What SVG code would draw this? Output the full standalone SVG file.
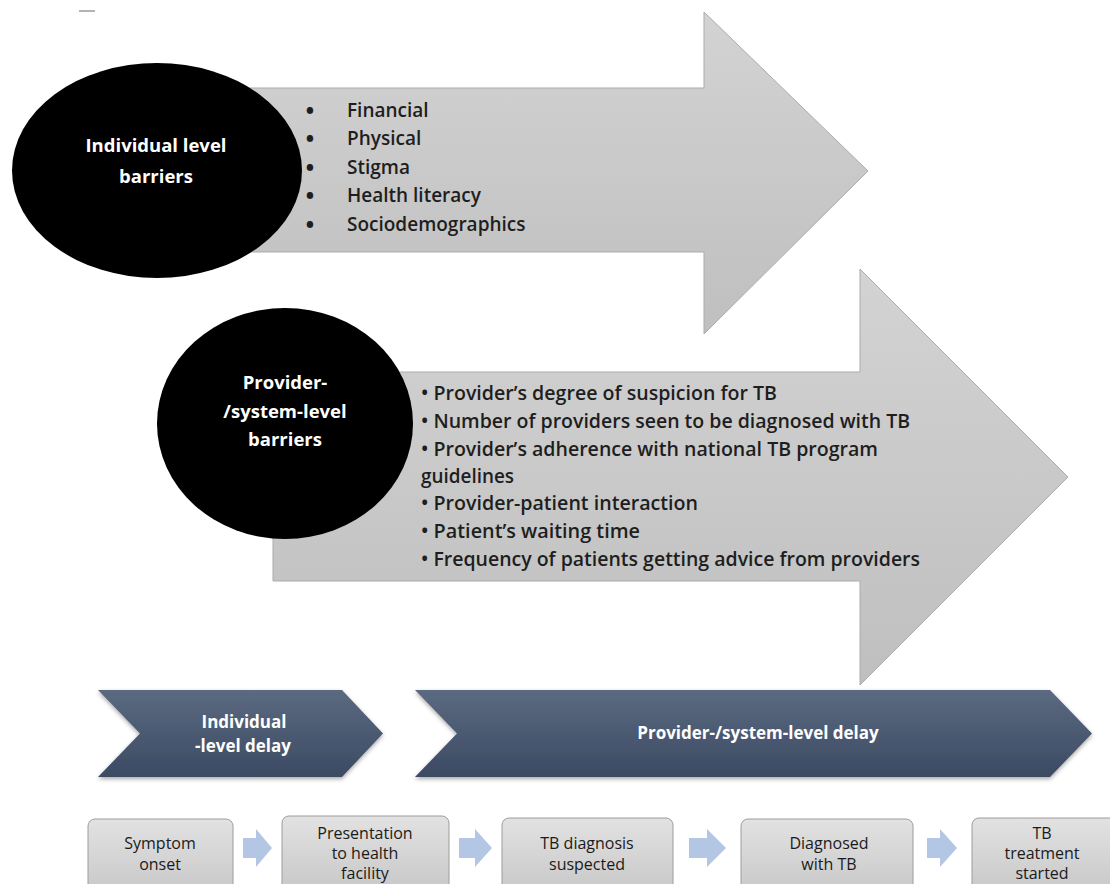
<svg xmlns="http://www.w3.org/2000/svg" width="1110" height="884" viewBox="0 0 1110 884">
<defs>
<linearGradient id="gArrow" x1="0" y1="0" x2="0" y2="1">
<stop offset="0" stop-color="#d3d3d3"/><stop offset="1" stop-color="#bfbfbf"/>
</linearGradient>
<linearGradient id="gChev" x1="0" y1="0" x2="0" y2="1">
<stop offset="0" stop-color="#5b6a80"/><stop offset="1" stop-color="#3b4a63"/>
</linearGradient>
<linearGradient id="gBox" x1="0" y1="0" x2="0" y2="1">
<stop offset="0" stop-color="#e2e2e2"/><stop offset="1" stop-color="#c6c6c6"/>
</linearGradient>
<filter id="shadow" x="-5%" y="-10%" width="110%" height="130%">
<feDropShadow dx="0" dy="2" stdDeviation="2" flood-color="#000" flood-opacity="0.35"/>
</filter>
<style>
.big{fill:url(#gArrow);stroke:#ababab;stroke-width:1}
.ell{fill:#000}
.etxt{font-family:"Open Sans","Liberation Sans",sans-serif;font-weight:700;font-size:18.5px;fill:#fff;text-anchor:middle}
.list{font-family:"Open Sans","Liberation Sans",sans-serif;font-weight:600;font-size:19px;fill:#1e1e1e}
.bul{font-family:"Open Sans","Liberation Sans",sans-serif;font-weight:800;font-size:20px;fill:#1e1e1e}
.chev{fill:url(#gChev);filter:url(#shadow)}
.ctxt{font-family:"Open Sans","Liberation Sans",sans-serif;font-weight:700;font-size:17px;fill:#fff;text-anchor:middle}
.box{fill:url(#gBox);stroke:#9c9c9c;stroke-width:1}
.btxt{font-family:"Open Sans","Liberation Sans",sans-serif;font-size:16px;fill:#1a1a1a;text-anchor:middle}
.small{fill:#b3c6e4}
</style>
</defs>
<rect width="1110" height="884" fill="#fff"/>
<line x1="79" y1="11" x2="95" y2="11" stroke="#9a9a9a" stroke-width="1.5"/>

<g id="individual-barriers">
<path class="big" d="M240,88 H704 V12 L868,171 L704,334 V252 H240 Z"/>
<ellipse class="ell" cx="157" cy="170.5" rx="145" ry="107.5"/>
<text class="etxt" x="156" y="152">Individual level</text>
<text class="etxt" x="156" y="183">barriers</text>
<g class="bul">
<text x="306" y="118">•</text>
<text x="306" y="146">•</text>
<text x="306" y="175">•</text>
<text x="306" y="203">•</text>
<text x="306" y="232">•</text>
</g>
<g class="list">
<text x="347" y="117">Financial</text>
<text x="347" y="145">Physical</text>
<text x="347" y="174">Stigma</text>
<text x="347" y="202">Health literacy</text>
<text x="347" y="231">Sociodemographics</text>
</g>
</g>

<g id="provider-barriers">
<path class="big" d="M273,372 H860 V269 L1068,477 L860,685 V581 H273 Z"/>
<ellipse class="ell" cx="285" cy="423.5" rx="128" ry="115.5"/>
<text class="etxt" x="285" y="389">Provider-</text>
<text class="etxt" x="285" y="418">/system-level</text>
<text class="etxt" x="285" y="446">barriers</text>
<g class="list">
<text x="421" y="400" textLength="356" lengthAdjust="spacingAndGlyphs">• Provider’s degree of suspicion for TB</text>
<text x="421" y="428" textLength="489" lengthAdjust="spacingAndGlyphs">• Number of providers seen to be diagnosed with TB</text>
<text x="421" y="456" textLength="457" lengthAdjust="spacingAndGlyphs">• Provider’s adherence with national TB program</text>
<text x="421" y="483" textLength="93" lengthAdjust="spacingAndGlyphs">guidelines</text>
<text x="421" y="510" textLength="277" lengthAdjust="spacingAndGlyphs">• Provider-patient interaction</text>
<text x="421" y="538" textLength="219" lengthAdjust="spacingAndGlyphs">• Patient’s waiting time</text>
<text x="421" y="566" textLength="499" lengthAdjust="spacingAndGlyphs">• Frequency of patients getting advice from providers</text>
</g>
</g>

<g id="individual-delay">
<path class="chev" d="M98,690 H342 L383,733.5 L342,777 H98 L140,733.5 Z"/>
<text class="ctxt" x="244" y="728">Individual</text>
<text class="ctxt" x="243" y="752">-level delay</text>
</g>
<g id="provider-delay">
<path class="chev" d="M415,690 H1050 L1092,733.5 L1050,777 H415 L457,733.5 Z"/>
<text class="ctxt" x="758" y="739">Provider-/system-level delay</text>
</g>

<g id="step-symptom">
<rect class="box" x="88" y="819" width="145" height="80" rx="7"/>
<text class="btxt" x="160" y="849">Symptom</text>
<text class="btxt" x="160" y="870">onset</text>
</g>
<g id="step-presentation">
<rect class="box" x="282" y="816" width="167" height="80" rx="7"/>
<text class="btxt" x="365" y="839">Presentation</text>
<text class="btxt" x="365" y="859">to health</text>
<text class="btxt" x="365" y="879">facility</text>
</g>
<g id="step-suspected">
<rect class="box" x="502" y="818" width="171" height="80" rx="7"/>
<text class="btxt" x="587" y="849">TB diagnosis</text>
<text class="btxt" x="587" y="870">suspected</text>
</g>
<g id="step-diagnosed">
<rect class="box" x="741" y="819" width="172" height="80" rx="7"/>
<text class="btxt" x="829" y="849">Diagnosed</text>
<text class="btxt" x="829" y="870">with TB</text>
</g>
<g id="step-treatment">
<rect class="box" x="972" y="818" width="150" height="80" rx="7"/>
<text class="btxt" x="1042" y="839">TB</text>
<text class="btxt" x="1042" y="859">treatment</text>
<text class="btxt" x="1042" y="879">started</text>
</g>

<g id="connectors">
<path class="small" d="M243,838 H256 V829 L272,848 L256,867 V858 H243 Z"/>
<path class="small" d="M459,838 H475 V829 L492,848 L475,867 V858 H459 Z"/>
<path class="small" d="M689,838 H707 V829 L726,848 L707,867 V858 H689 Z"/>
<path class="small" d="M927,838 H940 V829 L957,848 L940,867 V858 H927 Z"/>
</g>
</svg>
